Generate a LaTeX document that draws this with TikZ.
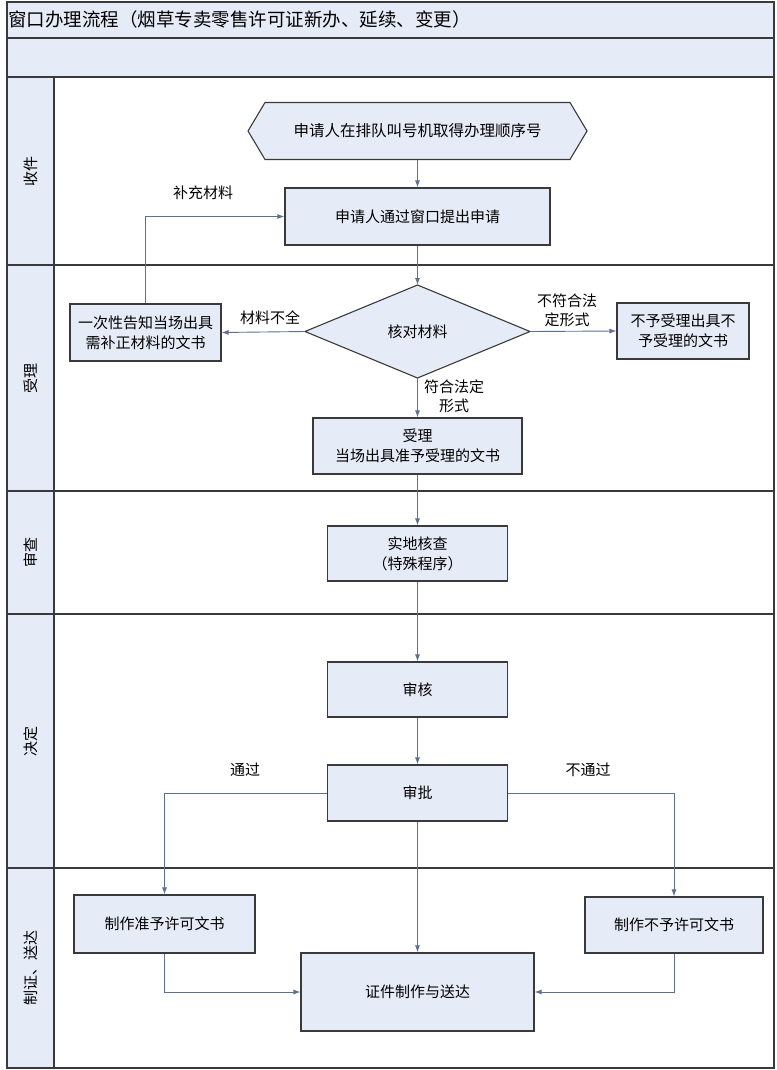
\documentclass[tikz,border=0pt]{standalone}
\usepackage{fontspec}
\setmainfont{Noto Sans CJK SC}
\usetikzlibrary{arrows.meta}
\definecolor{boxfill}{HTML}{E6ECF7}
\definecolor{linec}{HTML}{5B7290}
\definecolor{edgec}{HTML}{3A3A3A}
\begin{document}
\begin{tikzpicture}[x=1pt,y=-1pt,
  box/.style={draw=edgec, line width=1.1pt, fill=boxfill, align=center, inner sep=0pt, font=\fontsize{15}{20}\selectfont},
  ghost/.style={inner sep=0pt, outer sep=0pt},
  conn/.style={draw=linec, line width=0.9pt, -{Latex[length=7pt,width=5pt]}},
  lbl/.style={font=\fontsize{15}{19}\selectfont, align=center, inner sep=1pt},
  lane/.style={draw=edgec, line width=1.2pt},
  lanelbl/.style={rotate=90, font=\fontsize{15}{19}\selectfont, inner sep=0pt}]
\useasboundingbox (0,0) rectangle (776,1070);
% header rows
\fill[boxfill] (7,2) rectangle (774,77);
\fill[boxfill] (7,77) rectangle (54,1068);
\draw[lane] (7,38) -- (774,38);
\draw[lane] (7,77) -- (774,77);
\draw[lane] (54,77) -- (54,1068);
\draw[lane] (7,265) -- (774,265);
\draw[lane] (7,491) -- (774,491);
\draw[lane] (7,614) -- (774,614);
\draw[lane] (7,868) -- (774,868);
\draw[lane] (7,2) rectangle (774,1068);
\node[anchor=west, inner sep=0pt, font=\fontsize{18.5}{20}\selectfont] (title) at (8,19) {窗口办理流程（烟草专卖零售许可证新办、延续、变更）};
% lane labels
\node[lanelbl] (l1) at (31,171) {收件};
\node[lanelbl] (l2) at (31,378) {受理};
\node[lanelbl] (l3) at (31,552) {审查};
\node[lanelbl] (l4) at (31,741) {决定};
\node[lanelbl] (l5) at (31,968) {制证、送达};
% hexagon
\node[ghost, minimum width=339pt, minimum height=57pt] (hex) at (417.5,131) {};
\draw[draw=edgec, line width=1.1pt, fill=boxfill] (hex.west) -- ([xshift=17pt]hex.north west) -- ([xshift=-17pt]hex.north east) -- (hex.east) -- ([xshift=-17pt]hex.south east) -- ([xshift=17pt]hex.south west) -- cycle;
\node[font=\fontsize{15.5}{20}\selectfont] (hext) at (hex.center) {申请人在排队叫号机取得办理顺序号};
% boxes
\node[box, minimum width=265pt, minimum height=57pt] (b1) at (417.5,216.5) {申请人通过窗口提出申请};
\node[ghost, minimum width=225pt, minimum height=93pt] (d) at (417.5,331.5) {};
\draw[draw=edgec, line width=1.1pt, fill=boxfill] (d.north) -- (d.east) -- (d.south) -- (d.west) -- cycle;
\node[font=\fontsize{15}{20}\selectfont] (dt) at (d.center) {核对材料};
\node[box, minimum width=151pt, minimum height=57pt] (lb) at (145.5,332.5) {一次性告知当场出具\\需补正材料的文书};
\node[box, minimum width=132pt, minimum height=56pt] (rb) at (683,331) {不予受理出具不\\予受理的文书};
\node[box, minimum width=209pt, minimum height=56pt] (acc) at (417.5,446) {受理\\当场出具准予受理的文书};
\node[box, minimum width=180pt, minimum height=55pt] (chk) at (417.5,553.5) {实地核查\\（特殊程序）};
\node[box, minimum width=180pt, minimum height=55pt] (rev) at (417.5,689.5) {审核};
\node[box, minimum width=180pt, minimum height=56pt] (apr) at (417.5,793) {审批};
\node[box, minimum width=181pt, minimum height=58pt] (yes) at (164.5,924) {制作准予许可文书};
\node[box, minimum width=178pt, minimum height=56pt] (no) at (674,925) {制作不予许可文书};
\node[box, minimum width=233pt, minimum height=78pt] (out) at (417.5,992) {证件制作与送达};
% connectors
\draw[conn] (hex.south) -- (b1.north);
\draw[conn] (b1.south) -- (d.north);
\draw[conn] (d.west) -- (lb.east);
\node[lbl] (t1) at (270,318) {材料不全};
\draw[conn] (lb.north) |- (b1.west);
\node[lbl] (t2) at (203,193) {补充材料};
\draw[conn] (d.east) -- (rb.west);
\node[lbl] (t3) at (567,310) {不符合法\\定形式};
\draw[conn] (d.south) -- (acc.north);
\node[lbl] (t4) at (454,396) {符合法定\\形式};
\draw[conn] (acc.south) -- (chk.north);
\draw[conn] (chk.south) -- (rev.north);
\draw[conn] (rev.south) -- (apr.north);
\draw[conn] (apr.west) -| (yes.north);
\node[lbl] (t5) at (245,770) {通过};
\draw[conn] (apr.east) -| (no.north);
\node[lbl] (t6) at (588,770) {不通过};
\draw[conn] (apr.south) -- (out.north);
\draw[conn] (yes.south) |- (out.west);
\draw[conn] (no.south) |- (out.east);
\end{tikzpicture}
\end{document}
